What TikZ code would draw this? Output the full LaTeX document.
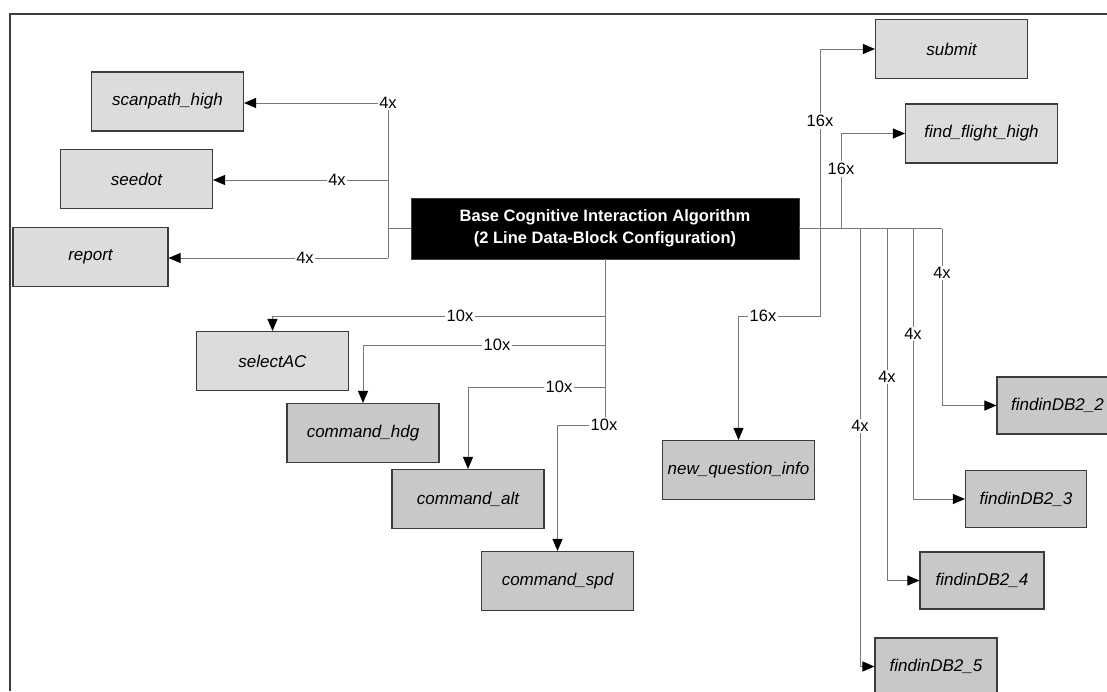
\documentclass[tikz,border=0pt]{standalone}
\usepackage{fontspec}
\setmainfont{Liberation Sans}
\usetikzlibrary{arrows.meta}
\definecolor{boxlight}{RGB}{220,220,220}
\definecolor{boxdark}{RGB}{200,200,200}
\definecolor{edge}{RGB}{60,60,60}
\definecolor{wire}{RGB}{120,120,120}
\tikzset{
  lbox/.style={draw=edge, line width=1.1pt, fill=boxlight, minimum width=152pt, minimum height=59pt, inner sep=0pt, font=\itshape\fontsize{17}{20}\selectfont},
  dbox/.style={lbox, fill=boxdark},
  fbox/.style={dbox, minimum width=121pt, minimum height=57pt},
  mult/.style={fill=white, inner sep=1.5pt, font=\fontsize{16.5}{19}\selectfont},
  wireline/.style={draw=wire, line width=0.9pt},
  arr/.style={wireline, -{Triangle[length=12pt,width=10pt,color=black]}},
}
\begin{document}
\begin{tikzpicture}[x=1pt,y=-1pt]
\useasboundingbox (0,0) rectangle (1107,691);
% frame
\draw[edge, line width=1.6pt] (10,691) -- (10,14) -- (1110,14);

% central node
\node[fill=black, draw=edge, minimum width=388pt, minimum height=61pt, text=white, align=center,
  font=\bfseries\fontsize{16.5}{22}\selectfont] (C) at (605,228.5)
  {Base Cognitive Interaction Algorithm\\(2 Line Data-Block Configuration)};

% left boxes
\node[lbox] (scan) at (167.5,101.5) {scanpath\_high};
\node[lbox] (seedot) at (136.5,179) {seedot};
\node[lbox, minimum width=155pt] (report) at (90.5,257) {report};

% bottom-left boxes
\node[lbox] (sel) at (272.5,361) {selectAC};
\node[dbox] (hdg) at (363,433) {command\_hdg};
\node[dbox] (alt) at (468,499) {command\_alt};
\node[dbox] (spd) at (557.5,581) {command\_spd};

% right boxes
\node[lbox] (submit) at (951.5,49) {submit};
\node[lbox] (ffh) at (981.5,133.5) {find\_flight\_high};
\node[dbox] (nqi) at (738.5,470) {new\_question\_info};
\node[fbox] (db2) at (1057.5,405.5) {findinDB2\_2};
\node[fbox] (db3) at (1026,499) {findinDB2\_3};
\node[fbox, minimum width=124pt] (db4) at (982,580.5) {findinDB2\_4};
\node[fbox, minimum width=122pt] (db5) at (936,666.5) {findinDB2\_5};

% multiplicity labels
\node[mult] (L1) at (388,103) {4x};
\node[mult] (L2) at (337,180) {4x};
\node[mult] (L3) at (305,258) {4x};
\node[mult] (D1) at (460,316) {10x};
\node[mult] (D2) at (497,345) {10x};
\node[mult] (D3) at (559,387) {10x};
\node[mult] (D4) at (604,425) {10x};
\node[mult] (S1) at (820,121) {16x};
\node[mult] (S2) at (841,169) {16x};
\node[mult] (S3) at (763,316) {16x};
\node[mult] (F2) at (942,273) {4x};
\node[mult] (F3) at (913,334) {4x};
\node[mult] (F4) at (887,377) {4x};
\node[mult] (F5) at (860,426) {4x};

% junction coordinates
\coordinate (jl) at (388,228.5);
\coordinate (jl2) at (388,180);
\coordinate (jlb) at (388,258);
\coordinate (b1) at (605,316);
\coordinate (b2) at (605,345);
\coordinate (b3) at (605,387);
\coordinate (r1) at (820,228.5);
\coordinate (r2) at (841,228.5);
\coordinate (r5) at (860,228.5);
\coordinate (r4) at (887,228.5);
\coordinate (r3) at (913,228.5);
\coordinate (rE) at (942,228.5);

% left bus
\draw[wireline] (C.west) -- (jl);
\draw[wireline] (L1.south) -- (jlb);
\draw[arr] (L1.west) -- (L1.west -| scan.east);
\draw[wireline] (jl2) -- (L2.east);
\draw[arr] (L2.west) -- (L2.west -| seedot.east);
\draw[wireline] (jlb) -- (L3.east);
\draw[arr] (L3.west) -- (L3.west -| report.east);

% bottom bus
\draw[wireline] (C.south) -- (D4.north -| C.south);
\draw[wireline] (b1) -- (D1.east);
\draw[arr] (D1.west) -| (sel.north);
\draw[wireline] (b2) -- (D2.east);
\draw[arr] (D2.west) -| (hdg.north);
\draw[wireline] (b3) -- (D3.east);
\draw[arr] (D3.west) -| (alt.north);
\draw[arr] (D4.west) -| (spd.north);

% right bus
\draw[wireline] (C.east) -- (rE);
\draw[wireline] (r1) -- (S1.south);
\draw[arr] (S1.north) |- (submit.west);
\draw[wireline] (r2) -- (S2.south);
\draw[arr] (S2.north) |- (ffh.west);
\draw[wireline] (r1) |- (S3.east);
\draw[arr] (S3.west) -| (nqi.north);
\draw[wireline] (rE) -- (F2.north);
\draw[arr] (F2.south) |- (db2.west);
\draw[wireline] (r3) -- (F3.north);
\draw[arr] (F3.south) |- (db3.west);
\draw[wireline] (r4) -- (F4.north);
\draw[arr] (F4.south) |- (db4.west);
\draw[wireline] (r5) -- (F5.north);
\draw[arr] (F5.south) |- (db5.west);
\end{tikzpicture}
\end{document}
